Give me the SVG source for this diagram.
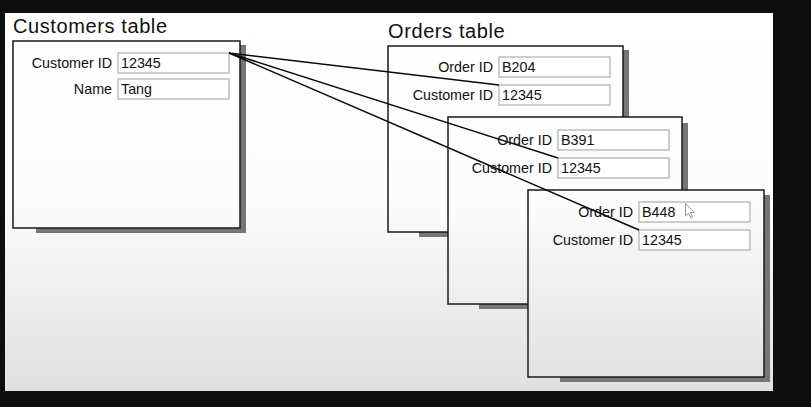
<svg xmlns="http://www.w3.org/2000/svg" width="811" height="407" viewBox="0 0 811 407">
<defs>
<linearGradient id="bg" gradientUnits="userSpaceOnUse" x1="0" y1="13" x2="0" y2="391">
<stop offset="0" stop-color="#ffffff"/>
<stop offset="0.5" stop-color="#fcfcfc"/>
<stop offset="1" stop-color="#e0e0e0"/>
</linearGradient>
<style>
.box{fill:url(#bg);stroke:#1a1a1a;stroke-width:1.5}
.shadow{fill:#767676}
.field{fill:#ffffff;stroke:#b4b4b4;stroke-width:1.3}
.title{font-family:"Liberation Sans",Arial,sans-serif;font-size:20px;letter-spacing:0.6px;fill:#111}
.lbl{font-family:"Liberation Sans",Arial,sans-serif;font-size:14.3px;fill:#111;text-anchor:end}
.val{font-family:"Liberation Sans",Arial,sans-serif;font-size:14.3px;fill:#111}
.conn{stroke:#0a0a0a;stroke-width:1.5;fill:none}
</style>
</defs>
<rect x="0" y="0" width="811" height="407" fill="#0e0e0e"/>
<rect x="5" y="13" width="768" height="378" fill="url(#bg)"/>

<g id="customers">
<text class="title" x="13" y="33">Customers table</text>
<rect class="shadow" x="36" y="45" width="210" height="188"/>
<rect class="box" x="13" y="41" width="227" height="187"/>
<text class="lbl" x="112" y="68">Customer ID</text>
<rect class="field" x="118" y="53" width="111" height="20"/>
<text class="val" x="121" y="68">12345</text>
<text class="lbl" x="112" y="94">Name</text>
<rect class="field" x="118" y="79" width="111" height="20"/>
<text class="val" x="121" y="94">Tang</text>
</g>

<g id="orders-title">
<text class="title" x="388" y="38">Orders table</text>
</g>

<g id="order1">
<rect class="shadow" x="419" y="50" width="210" height="187"/>
<rect class="box" x="388" y="46" width="235" height="186"/>
<text class="lbl" x="493" y="72">Order ID</text>
<rect class="field" x="499" y="57" width="111" height="20"/>
<text class="val" x="502" y="72">B204</text>
<text class="lbl" x="493" y="100">Customer ID</text>
<rect class="field" x="499" y="85" width="111" height="20"/>
<text class="val" x="502" y="100">12345</text>
</g>

<g id="order2">
<rect class="shadow" x="479" y="123" width="209" height="186"/>
<rect class="box" x="448" y="117" width="234" height="187"/>
<text class="lbl" x="552" y="145">Order ID</text>
<rect class="field" x="558" y="130" width="111" height="20"/>
<text class="val" x="561" y="145">B391</text>
<text class="lbl" x="552" y="173">Customer ID</text>
<rect class="field" x="558" y="158" width="111" height="20"/>
<text class="val" x="561" y="173">12345</text>
</g>

<g id="order3">
<rect class="shadow" x="560" y="195" width="210" height="187"/>
<rect class="box" x="528" y="190" width="236" height="187"/>
<text class="lbl" x="633" y="217">Order ID</text>
<rect class="field" x="639" y="202" width="111" height="20"/>
<text class="val" x="642" y="217">B448</text>
<text class="lbl" x="633" y="245">Customer ID</text>
<rect class="field" x="639" y="230" width="111" height="20"/>
<text class="val" x="642" y="245">12345</text>
<path d="M685.5 203.5 L685.5 216 L688.5 213.2 L690.8 218 L692.6 217.1 L690.4 212.4 L694.5 212.4 Z" fill="#ffffff" stroke="#8a8a8a" stroke-width="0.9" stroke-linejoin="round"/>
</g>

<g id="connectors">
<line class="conn" x1="229" y1="53" x2="499" y2="85"/>
<line class="conn" x1="229" y1="53" x2="558" y2="158"/>
<line class="conn" x1="229" y1="53" x2="639" y2="230"/>
</g>
</svg>
